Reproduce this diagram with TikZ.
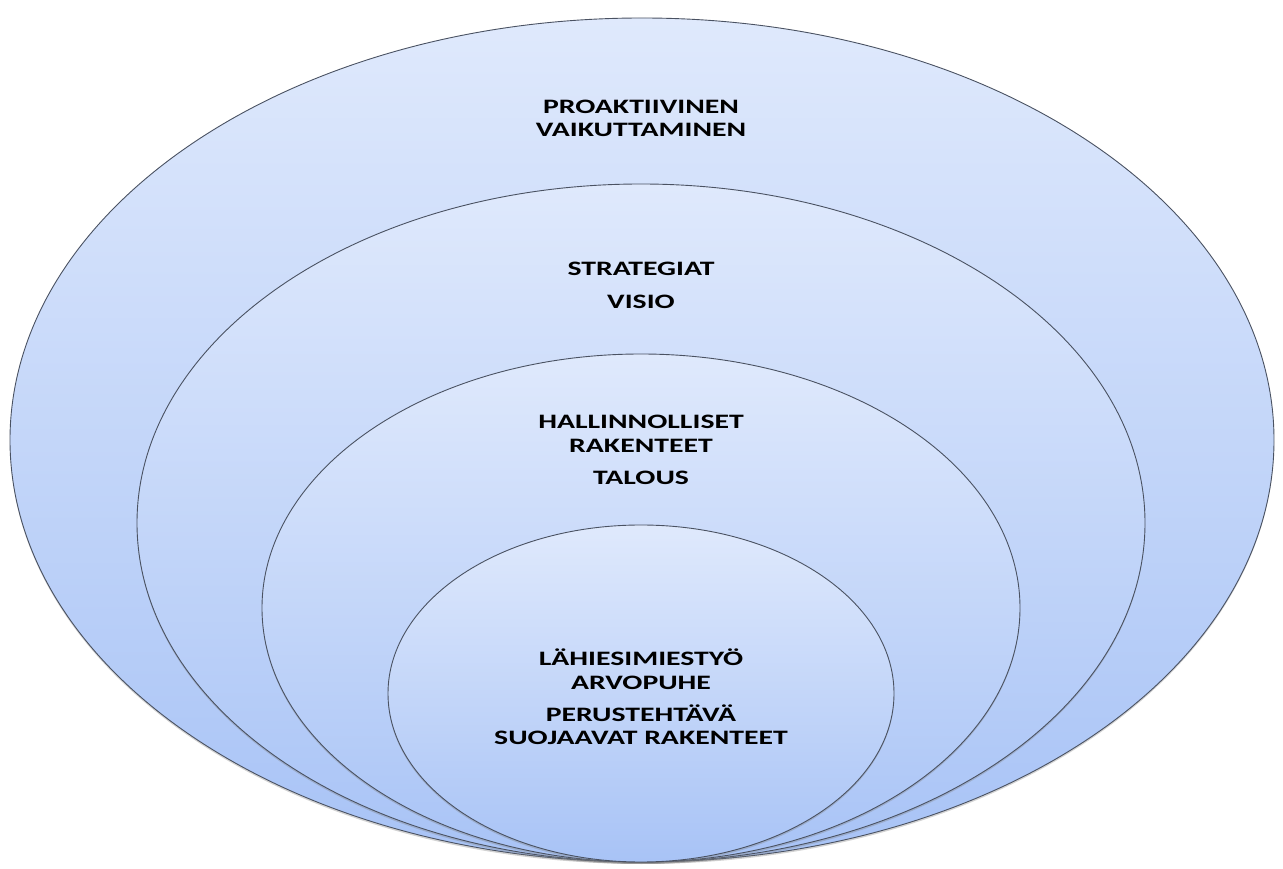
\documentclass[tikz,border=0pt]{standalone}
\usepackage{fontspec}
\setmainfont{Carlito}
\usetikzlibrary{shapes.geometric,shadows}
\definecolor{ctop}{HTML}{DFE9FC}
\definecolor{cbot}{HTML}{A8C3F6}
\definecolor{cline}{HTML}{4A5262}
\tikzset{
  ring/.style={ellipse, draw=cline, line width=0.9pt, inner sep=0pt,
    top color=ctop, bottom color=cbot,
    drop shadow={opacity=0.35, shadow xshift=0pt, shadow yshift=-2pt}},
  lbl/.style={font=\fontsize{20.5}{23.5}\selectfont\bfseries, align=center,
    xscale=1.45, transform shape, inner sep=0pt}
}
\begin{document}
\begin{tikzpicture}[x=1pt,y=1pt]
\useasboundingbox (0,0) rectangle (1283,868);
\node[ring, minimum width=1264pt, minimum height=844pt] (r1) at (642,428) {};
\node[ring, minimum width=1008pt, minimum height=678pt] (r2) at (641,345) {};
\node[ring, minimum width=758pt, minimum height=508pt] (r3) at (641,260) {};
\node[ring, minimum width=506pt, minimum height=337pt] (r4) at (641,174.5) {};
\node[lbl] (t1) at (641,749.5) {PROAKTIIVINEN\\VAIKUTTAMINEN};
\node[lbl] (t2) at (641,599) {STRATEGIAT};
\node[lbl] (t3) at (641,566) {VISIO};
\node[lbl] (t4) at (641,434) {HALLINNOLLISET\\RAKENTEET};
\node[lbl] (t5) at (641,390) {TALOUS};
\node[lbl] (t6) at (641,199) {LÄHIESIMIESTYÖ\\ARVOPUHE};
\node[lbl] (t7) at (641,143.5) {PERUSTEHTÄVÄ\\SUOJAAVAT RAKENTEET};
\end{tikzpicture}
\end{document}
